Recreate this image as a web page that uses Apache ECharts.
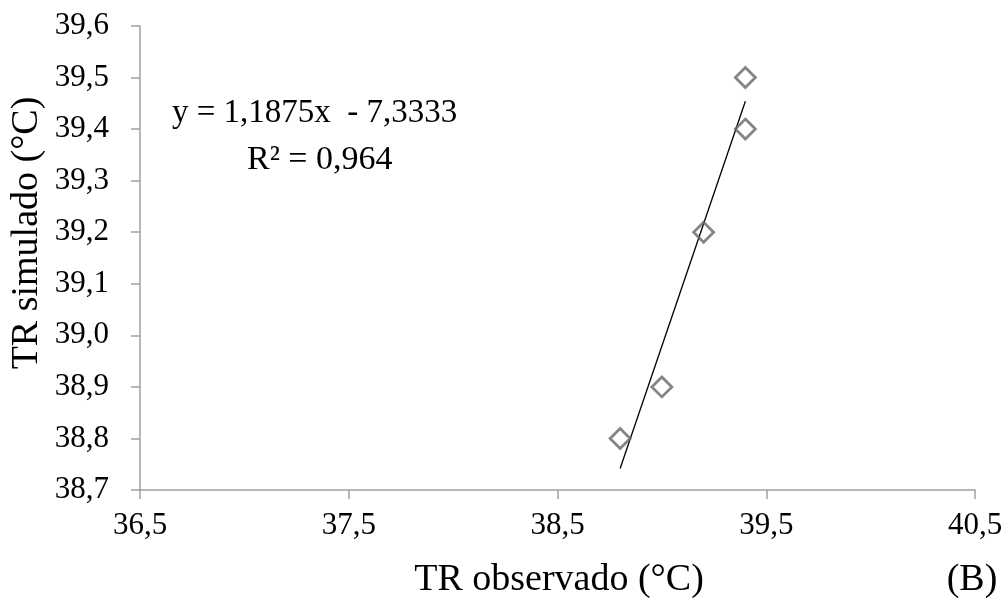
<!DOCTYPE html>
<html>
<head>
<meta charset="utf-8">
<script src="https://cdn.jsdelivr.net/npm/echarts@6/dist/echarts.min.js"></script>
<style>
html,body{margin:0;padding:0;background:#fff;}
#chart{width:1008px;height:607px;}
</style>
</head>
<body>
<div id="chart"></div>
<script>
// Data
const observed = [38.8, 39.0, 39.2, 39.4, 39.4];
const simulated = [38.8, 38.9, 39.2, 39.4, 39.5];
const xTicks = [36.5, 37.5, 38.5, 39.5, 40.5];
const yTicks = [38.7, 38.8, 38.9, 39.0, 39.1, 39.2, 39.3, 39.4, 39.5, 39.6];
const trendSlope = 1.1875;
const trendIntercept = -7.3333;
const eqLine1 = 'y = 1,1875x  - 7,3333';
const eqLine2 = 'R² = 0,964';
const xTitle = 'TR observado (°C)';
const yTitle = 'TR simulado (°C)';
const panelLabel = '(B)';

const points = observed.map((x, i) => [x, simulated[i]]);
const xMin = Math.min(...observed), xMax = Math.max(...observed);
const trend = [[xMin, trendSlope * xMin + trendIntercept], [xMax, trendSlope * xMax + trendIntercept]];

const FONT = '"Liberation Serif", "Times New Roman", serif';
const fmt = v => Number(v).toFixed(1).replace('.', ',');

const chart = echarts.init(document.getElementById('chart'), null, {renderer: 'canvas'});
chart.setOption({
  animation: false,
  backgroundColor: '#ffffff',
  grid: {left: 140, right: 33, top: 26, bottom: 117},
  xAxis: {
    type: 'value',
    min: xTicks[0], max: xTicks[xTicks.length - 1],
    interval: 0.5,
    axisLine: {show: true, lineStyle: {color: '#a0a0a0', width: 1.5}},
    axisTick: {show: true, length: 9, lineStyle: {color: '#a0a0a0', width: 1.5}, customValues: xTicks},
    axisLabel: {customValues: xTicks, formatter: fmt, color: '#000', fontFamily: FONT, fontSize: 31, margin: 20},
    splitLine: {show: false}
  },
  yAxis: {
    type: 'value',
    min: yTicks[0], max: yTicks[yTicks.length - 1],
    interval: 0.1,
    axisLine: {show: true, lineStyle: {color: '#a0a0a0', width: 1.5}},
    axisTick: {show: true, length: 9, lineStyle: {color: '#a0a0a0', width: 1.5}, customValues: yTicks},
    axisLabel: {customValues: yTicks, formatter: fmt, color: '#000', fontFamily: FONT, fontSize: 31, margin: 31},
    splitLine: {show: false}
  },
  series: [
    {
      type: 'line',
      data: trend,
      symbol: 'none',
      lineStyle: {color: '#000', width: 1.3},
      z: 3
    },
    {
      type: 'scatter',
      data: points,
      symbol: 'diamond',
      symbolSize: [20, 20],
      itemStyle: {color: 'rgba(255,255,255,0)', borderColor: '#666666', borderWidth: 2.8},
      z: 4
    }
  ],
  graphic: [
    {type: 'text', x: 27, y: 233, rotation: Math.PI / 2,
     style: {text: yTitle, font: '38px ' + FONT, fill: '#000', textAlign: 'center', textVerticalAlign: 'middle'}},
    {type: 'text', x: 559, y: 580,
     style: {text: xTitle, font: '38px ' + FONT, fill: '#000', textAlign: 'center', textVerticalAlign: 'middle'}},
    {type: 'text', x: 972, y: 580,
     style: {text: panelLabel, font: '38px ' + FONT, fill: '#000', textAlign: 'center', textVerticalAlign: 'middle'}},
    {type: 'text', x: 172, y: 113,
     style: {text: eqLine1, font: '33px ' + FONT, fill: '#000', textAlign: 'left', textVerticalAlign: 'middle'}},
    {type: 'text', x: 247, y: 160,
     style: {text: eqLine2, font: '34px ' + FONT, fill: '#000', textAlign: 'left', textVerticalAlign: 'middle'}}
  ]
});
</script>
</body>
</html>
